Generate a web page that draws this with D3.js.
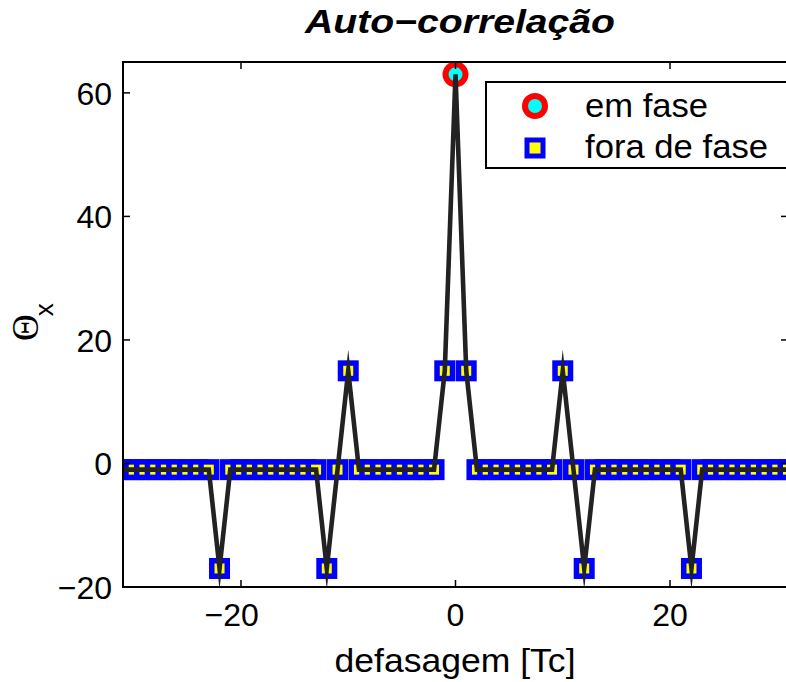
<!DOCTYPE html>
<html>
<head>
<meta charset="utf-8">
<script src="https://cdn.jsdelivr.net/npm/d3@7"></script>
<style>
  html, body { margin: 0; padding: 0; background: #fff; }
  svg { display: block; }
  text { font-family: "Liberation Sans", Arial, Helvetica, sans-serif; fill: #000; }
</style>
</head>
<body>
<svg id="chart" width="786" height="682"></svg>
<script>
// Autocorrelation of a length-63 spreading code, lag in chip periods
const lags = [-31,-30,-29,-28,-27,-26,-25,-24,-23,-22,-21,-20,-19,-18,-17,-16,-15,-14,-13,-12,-11,-10,
  -9,-8,-7,-6,-5,-4,-3,-2,-1,0,1,2,3,4,5,6,7,8,9,10,11,12,13,14,15,16,17,18,19,20,21,22,
  23,24,25,26,27,28,29,30,31];
const values = [-1,-1,-1,-1,-1,-1,-1,-1,-1,-17,-1,-1,-1,-1,-1,-1,-1,-1,-1,-17,-1,15,
  -1,-1,-1,-1,-1,-1,-1,-1,15,63,15,-1,-1,-1,-1,-1,-1,-1,-1,15,-1,-17,-1,-1,-1,-1,-1,-1,-1,-1,-1,-17,
  -1,-1,-1,-1,-1,-1,-1,-1,-1];
const inPhaseLag = [0];
const inPhaseValue = [63];
const xTicks = [-20, 0, 20];
const yTicks = [-20, 0, 20, 40, 60];
const xDomain = [-31, 31];
const yDomain = [-20, 65];
const legendLabels = ["em fase", "fora de fase"];
const titleText = "Auto\u2212correlação";
const xLabelText = "defasagem [Tc]";

const svg = d3.select("#chart");
const W = 786, H = 682;
const plot = { left: 123, right: 788, top: 62, bottom: 587 };

const x = d3.scaleLinear().domain(xDomain).range([plot.left, plot.right]);
const y = d3.scaleLinear().domain(yDomain).range([plot.bottom, plot.top]);

svg.append("rect").attr("width", W).attr("height", H).attr("fill", "#fff");

svg.append("defs").append("clipPath").attr("id", "plotClip")
  .append("rect")
  .attr("x", plot.left).attr("y", plot.top)
  .attr("width", plot.right - plot.left).attr("height", plot.bottom - plot.top);

const pts = lags.map((l, i) => ({ lag: l, v: values[i] }));
const outPts = pts.filter(d => !inPhaseLag.includes(d.lag));
const inPts = inPhaseLag.map((l, i) => ({ lag: l, v: inPhaseValue[i] }));

const g = svg.append("g").attr("clip-path", "url(#plotClip)");

// out-of-phase markers: blue-edged yellow squares
const sq = 15.5;
g.selectAll("rect.off").data(outPts).enter().append("rect")
  .attr("class", "off")
  .attr("x", d => x(d.lag) - sq / 2)
  .attr("y", d => y(d.v) - sq / 2)
  .attr("width", sq).attr("height", sq)
  .attr("fill", "#ffff00").attr("stroke", "#0000ff").attr("stroke-width", 5.5);

// in-phase marker: red-edged cyan circle
g.selectAll("circle.on").data(inPts).enter().append("circle")
  .attr("class", "on")
  .attr("cx", d => x(d.lag)).attr("cy", d => y(d.v))
  .attr("r", 10)
  .attr("fill", "#00ffff").attr("stroke", "#ff0000").attr("stroke-width", 6);

// connecting line drawn over the markers
const line = d3.line().x(d => x(d.lag)).y(d => y(d.v));
g.append("path").datum(pts)
  .attr("d", line)
  .attr("fill", "none").attr("stroke", "#222")
  .attr("stroke-width", 4.6)
  .attr("stroke-linejoin", "miter").attr("stroke-miterlimit", 10);

// axes box with inward ticks on all four sides
const axisG = svg.append("g").attr("stroke", "#000").attr("stroke-width", 2).attr("fill", "none");
axisG.append("rect")
  .attr("x", plot.left).attr("y", plot.top)
  .attr("width", plot.right - plot.left).attr("height", plot.bottom - plot.top);
const tl = 7;
xTicks.forEach(t => {
  axisG.append("line").attr("x1", x(t)).attr("x2", x(t)).attr("y1", plot.bottom).attr("y2", plot.bottom - tl).attr("stroke-width", 1.5);
  axisG.append("line").attr("x1", x(t)).attr("x2", x(t)).attr("y1", plot.top).attr("y2", plot.top + tl).attr("stroke-width", 1.5);
});
yTicks.forEach(t => {
  axisG.append("line").attr("x1", plot.left).attr("x2", plot.left + tl).attr("y1", y(t)).attr("y2", y(t)).attr("stroke-width", 1.5);
  axisG.append("line").attr("x1", plot.right).attr("x2", plot.right - tl).attr("y1", y(t)).attr("y2", y(t)).attr("stroke-width", 1.5);
});

const fmt = v => (v < 0 ? "\u2212" : "") + Math.abs(v);
const fs = 32;

// x tick labels: digits centred on the tick, minus sign hangs to the left
xTicks.forEach(t => {
  const txt = svg.append("text")
    .attr("x", x(t)).attr("y", 626)
    .attr("text-anchor", "middle")
    .attr("font-size", fs)
    .text(fmt(t));
  if (t < 0) {
    const full = txt.node().getComputedTextLength();
    const digits = svg.append("text").attr("font-size", fs).text(String(Math.abs(t)));
    const dw = digits.node().getComputedTextLength();
    digits.remove();
    txt.attr("dx", -(full - dw) / 2);
  }
});

// y tick labels
yTicks.forEach(t => {
  svg.append("text")
    .attr("x", plot.left - 11).attr("y", y(t) + 12)
    .attr("text-anchor", "end")
    .attr("font-size", fs)
    .text(fmt(t));
});

// title
svg.append("text")
  .attr("x", 460).attr("y", 33)
  .attr("text-anchor", "middle")
  .attr("font-size", 33).attr("font-weight", "bold").attr("font-style", "italic")
  .attr("textLength", 310).attr("lengthAdjust", "spacingAndGlyphs")
  .text(titleText);

// x label
svg.append("text")
  .attr("x", 455).attr("y", 672)
  .attr("text-anchor", "middle")
  .attr("font-size", 33)
  .attr("textLength", 241).attr("lengthAdjust", "spacingAndGlyphs")
  .text(xLabelText);

// y label: Theta with subscript x, rotated
const yl = svg.append("text")
  .attr("transform", "translate(38,341) rotate(-90)")
  .attr("text-anchor", "start");
yl.append("tspan")
  .style("font-family", "'Liberation Serif', 'DejaVu Serif', serif")
  .style("font-size", "37px").text("\u0398");
yl.append("tspan")
  .style("font-size", "26px").attr("dy", 15).attr("dx", -2).text("x");

// legend
const legendWidths = [123, 183];
const lg = svg.append("g");
lg.append("rect")
  .attr("x", 486).attr("y", 82).attr("width", 320).attr("height", 86)
  .attr("fill", "#fff").attr("stroke", "#000").attr("stroke-width", 2);
lg.append("circle").attr("cx", 535).attr("cy", 106).attr("r", 10)
  .attr("fill", "#00ffff").attr("stroke", "#ff0000").attr("stroke-width", 6);
lg.append("rect").attr("x", 535 - 8).attr("y", 148 - 8).attr("width", 16).attr("height", 16)
  .attr("fill", "#ffff00").attr("stroke", "#0000ff").attr("stroke-width", 5);
lg.selectAll("text.lab").data(legendLabels).enter().append("text")
  .attr("class", "lab")
  .attr("x", 585).attr("y", (d, i) => 117 + i * 41)
  .attr("font-size", 33)
  .attr("textLength", (d, i) => legendWidths[i]).attr("lengthAdjust", "spacingAndGlyphs")
  .text(d => d);
</script>
</body>
</html>
